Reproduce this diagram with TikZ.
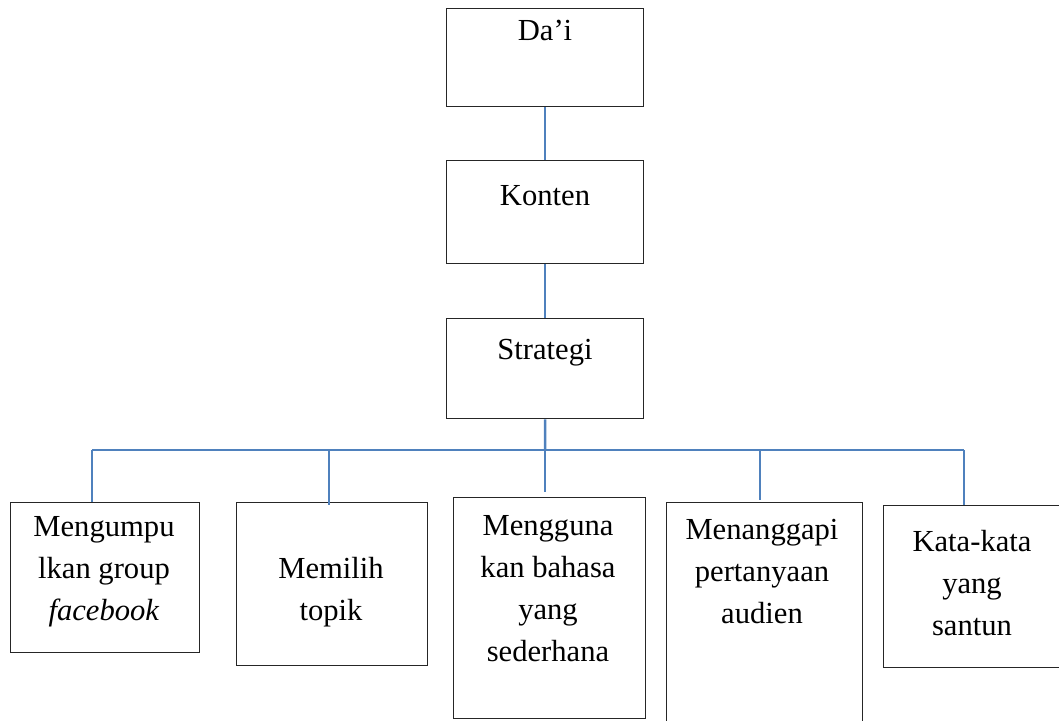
\documentclass[tikz,border=0pt]{standalone}
\usepackage{fontspec}
\setmainfont{Liberation Serif}
\definecolor{linkblue}{HTML}{4F81BD}
\begin{document}
\begin{tikzpicture}[x=0.5pt,y=-0.5pt,
  box/.style 2 args={draw=black!85, line width=0.7pt, inner sep=0, anchor=north west,
    minimum width=#1*0.5pt, minimum height=#2*0.5pt},
  lbl/.style={font=\fontsize{15.3}{21}\selectfont, align=center, inner sep=0},
  conn/.style={draw=linkblue, line width=1.25pt}]
\useasboundingbox (0,0) rectangle (1059,720);
% boxes
\node[box={197}{98}]  (dai)    at (446,8)   {};
\node[box={197}{103}] (konten) at (446,160) {};
\node[box={197}{100}] (strat)  at (446,318) {};
\node[box={189}{150}] (b1) at (10,502)  {};
\node[box={191}{163}] (b2) at (236,502) {};
\node[box={192}{221}] (b3) at (453,497) {};
\node[box={196}{225}] (b4) at (666,502) {};
\node[box={178}{162}] (b5) at (883,505) {};
% texts
\node[lbl] (tdai)    at (545,30)  {Da’i};
\node[lbl] (tkonten) at (545,196) {Konten};
\node[lbl] (tstrat)  at (545,353) {Strategi};
\node[lbl] (t1) at (104,572) {Mengumpu\\lkan group\\\textit{facebook}};
\node[lbl] (t2) at (331,592) {Memilih\\topik};
\node[lbl] (t3) at (548,589) {Mengguna\\kan bahasa\\yang\\sederhana};
\node[lbl] (t4) at (762,571) {Menanggapi\\pertanyaan\\audien};
\node[lbl] (t5) at (972,583) {Kata-kata\\yang\\santun};
% connectors
\draw[conn] (dai.south) -- (konten.north);
\draw[conn] (konten.south) -- (strat.north);
\coordinate (j1) at (92,450);
\coordinate (j2) at (329,450);
\coordinate (j3) at (545,450);
\coordinate (j4) at (760,450);
\coordinate (j5) at (964,450);
\coordinate (e3) at (545,492);
\draw[conn] (strat.south) -- (j3);
\draw[conn] (j1) -- (j5);
\draw[conn] (j1) -- (j1 |- b1.north);
\draw[conn] (j2) -- ([yshift=-1.5pt]j2 |- b2.north);
\draw[conn] (j3) -- (e3);
\draw[conn] (j4) -- ([yshift=1pt]j4 |- b4.north);
\draw[conn] (j5) -- (j5 |- b5.north);
\end{tikzpicture}
\end{document}
